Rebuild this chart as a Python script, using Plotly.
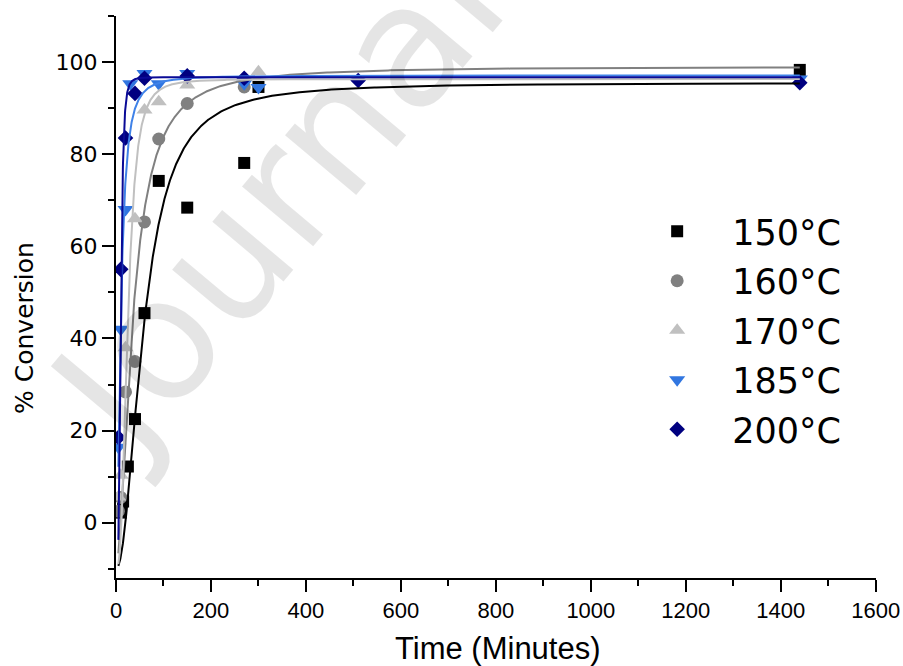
import numpy as np
import plotly.graph_objects as go

# ---------------- data ----------------
labels = ["150°C", "160°C", "170°C", "185°C", "200°C"]

t150 = [10, 15, 25, 40, 60, 90, 150, 270, 300, 1440]
c150 = [2.2, 4.6, 12.2, 22.5, 45.5, 74.2, 68.4, 78.1, 94.6, 98.3]

t160 = [5, 10, 20, 40, 60, 90, 150, 270]
c160 = [2.5, 5.5, 28.4, 35, 65.3, 83.3, 91.0, 94.6]

t170 = [5, 10, 20, 40, 60, 90, 150, 300]
c170 = [5.6, 10.3, 38, 66, 89.6, 91.4, 95.0, 97.9]

t185 = [5, 10, 20, 30, 60, 90, 150, 270, 300, 510, 1440]
c185 = [16.4, 42, 68, 95.3, 97.5, 95.3, 97.5, 95.3, 94.5, 96.0, 96.3]

t200 = [5, 10, 20, 40, 60, 150, 270, 510, 1440]
c200 = [18.5, 55, 83.5, 93.2, 96.5, 97.0, 96.5, 96.0, 95.5]

# logistic fit parameters  y = A2 + (A1-A2)/(1+(t/x0)^p)
fit_A1 = [-10, -10, -10, -10, -10]
fit_A2 = [95.5, 99.0, 96.3, 97.1, 96.7]
fit_x0 = [58.5, 35.5, 24.8, 10.1, 10.0]
fit_p = [2.08, 1.76, 2.9, 1.91, 4.0]
fit_tmin = 5
fit_tmax = 1440

x_ticks = [0, 200, 400, 600, 800, 1000, 1200, 1400, 1600]
y_ticks = [0, 20, 40, 60, 80, 100]

# ---------------- styles ----------------
marker_colors = ["#000000", "#808080", "#c0c0c0", "#3176e0", "#000080"]
line_colors = ["#000000", "#808080", "#c0c0c0", "#3f82e8", "#0a0a96"]
symbols = ["square", "circle", "triangle-up", "triangle-down", "diamond"]
sizes = [12, 13, 14, 14, 12]

times = [t150, t160, t170, t185, t200]
convs = [c150, c160, c170, c185, c200]

fig = go.Figure()

for i in range(5):
    fig.add_trace(go.Scatter(
        x=times[i], y=convs[i], mode="markers", name=labels[i],
        legendgroup=labels[i],
        marker=dict(symbol=symbols[i], size=sizes[i], color=marker_colors[i],
                    line=dict(width=0)),
    ))

tf = np.concatenate([np.linspace(fit_tmin, 200, 600), np.linspace(200, fit_tmax, 300)[1:]])
for i in range(5):
    yf = fit_A2[i] + (fit_A1[i] - fit_A2[i]) / (1 + (tf / fit_x0[i]) ** fit_p[i])
    fig.add_trace(go.Scatter(
        x=tf, y=yf, mode="lines", showlegend=False, hoverinfo="skip",
        line=dict(color=line_colors[i], width=2),
    ))

fig.update_layout(
    width=903, height=666,
    margin=dict(l=116, r=27, t=16, b=88, autoexpand=False),
    paper_bgcolor="white", plot_bgcolor="white",
    font=dict(family="DejaVu Sans", color="black"),
    showlegend=True,
    legend=dict(
        x=0.666, y=0.669, xanchor="left", yanchor="top",
        font=dict(family="DejaVu Sans", size=35, color="black"),
        bgcolor="rgba(0,0,0,0)", itemwidth=100, tracegroupgap=1,
    ),
)

fig.update_xaxes(
    range=[0, 1600.5], tickvals=x_ticks, automargin=False,
    showline=True, linewidth=2, linecolor="black", mirror=False,
    ticks="outside", ticklen=12, tickwidth=2, tickcolor="black",
    minor=dict(dtick=100, ticklen=6, tickwidth=2, tickcolor="black", ticks="outside"),
    showgrid=False, zeroline=False,
    tickfont=dict(family="Liberation Sans", size=22),
)
fig.update_yaxes(
    range=[-12, 110], tickvals=y_ticks, automargin=False,
    showline=True, linewidth=2, linecolor="black", mirror=False,
    ticks="outside", ticklen=12, tickwidth=2, tickcolor="black",
    minor=dict(dtick=10, tick0=0, ticklen=6, tickwidth=2, tickcolor="black", ticks="outside"),
    showgrid=False, zeroline=False,
    tickfont=dict(family="DejaVu Sans", size=22),
)

# axis titles
fig.add_annotation(
    text="Time (Minutes)", xref="paper", yref="paper", x=0.503, y=-0.1246,
    xanchor="center", yanchor="middle", showarrow=False,
    font=dict(family="Liberation Sans", size=31),
)
fig.add_annotation(
    text="% Conversion", xref="paper", yref="paper", x=-0.1197, y=0.445,
    xanchor="center", yanchor="middle", showarrow=False, textangle=-90,
    font=dict(family="DejaVu Sans", size=25),
)

# watermark
fig.add_annotation(
    text="Journal", xref="paper", yref="paper", x=0.21, y=0.675,
    xanchor="center", yanchor="middle",
    showarrow=False, textangle=-50,
    font=dict(family="DejaVu Sans", size=170, color="rgba(0,0,0,0.1)"),
)

# remove the default 8px page margin so the 903x666 figure fills the window exactly
fig.write_html(
    "out.html",
    config={"displayModeBar": False},
    post_script="document.body.style.margin='0px';document.body.style.overflow='hidden';",
)
